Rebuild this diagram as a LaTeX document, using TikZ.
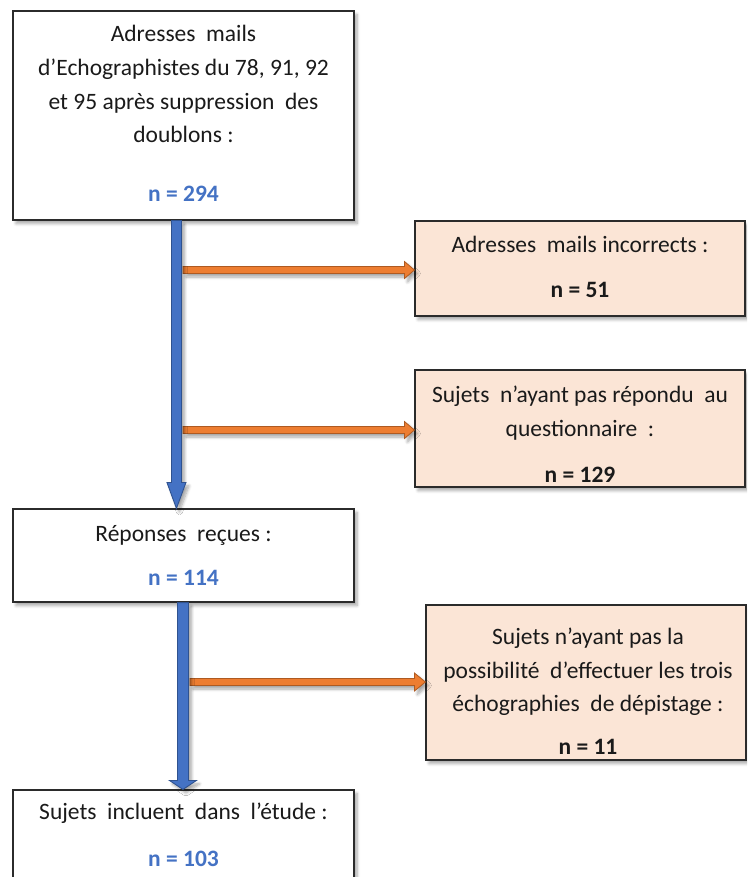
\documentclass[tikz,border=0pt]{standalone}
\usepackage{fontspec}
\setmainfont{Carlito}
\usetikzlibrary{calc,shadows.blur}
\definecolor{bluefill}{HTML}{4472C4}
\definecolor{blueline}{HTML}{2F528F}
\definecolor{orfill}{HTML}{ED7D31}
\definecolor{orline}{HTML}{AE5A21}
\definecolor{boxfill}{HTML}{FBE5D6}
\definecolor{boxline}{HTML}{2B2B2B}
\definecolor{txt}{HTML}{1A1A1A}
\definecolor{ntxt}{HTML}{4472C4}
% vertical block arrow: start, end, half shaft, half head, head length, style
\newcommand\myvarrow[6]{%
  \path[#6] let \p1=(#1), \p2=(#2) in
    (\x1-#3,\y1) -- (\x1-#3,\y2+#5) -- (\x1-#4,\y2+#5) -- (\x1,\y2)
    -- (\x1+#4,\y2+#5) -- (\x1+#3,\y2+#5) -- (\x1+#3,\y1) -- cycle;}
% horizontal block arrow
\newcommand\myharrow[6]{%
  \path[#6] let \p1=(#1), \p2=(#2) in
    (\x1,\y1-#3) -- (\x2-#5,\y1-#3) -- (\x2-#5,\y1-#4) -- (\x2,\y1)
    -- (\x2-#5,\y1+#4) -- (\x2-#5,\y1+#3) -- (\x1,\y1+#3) -- cycle;}
\begin{document}
\begin{tikzpicture}[x=1pt,y=-1pt,
  softshadow/.style={blur shadow={shadow xshift=3pt,shadow yshift=-3.5pt,shadow blur steps=6,shadow blur radius=3pt,shadow opacity=35}},
  whitebox/.style={rectangle,draw=boxline,line width=1.1pt,fill=white,inner sep=0pt,softshadow},
  peachbox/.style={rectangle,draw=boxline,line width=1.1pt,fill=boxfill,inner sep=0pt,softshadow},
  line/.style={anchor=base,inner sep=0pt,text=txt,font=\fontsize{23.5}{28}\selectfont},
  nblue/.style={anchor=base,inner sep=0pt,text=ntxt,font=\fontsize{23.5}{28}\selectfont\bfseries},
  nblack/.style={anchor=base,inner sep=0pt,text=txt,font=\fontsize{23.5}{28}\selectfont\bfseries},
  bluearrow/.style={fill=bluefill,draw=blueline,line width=0.9pt,line join=miter,softshadow},
  orarrow/.style={fill=orfill,draw=orline,line width=0.8pt,line join=miter,softshadow}]
\useasboundingbox (0,0) rectangle (747,877);
\clip (0,0) rectangle (747,877);

% boxes
\node[whitebox,minimum width=341pt,minimum height=209pt] (top) at (183.5,115.5) {};
\node[whitebox,minimum width=341pt,minimum height=93pt] (rep) at (183.5,555.5) {};
\node[whitebox,minimum width=341pt,minimum height=110pt] (inc) at (183.5,845) {};
\node[peachbox,minimum width=330pt,minimum height=95pt] (a1) at (580,268.5) {};
\node[peachbox,minimum width=330pt,minimum height=117pt] (a2) at (580,428.5) {};
\node[peachbox,minimum width=320pt,minimum height=155pt] (a3) at (586,682.5) {};

% texts
\node[line] (t1) at (183.5,42) {Adresses\ \ mails};
\node[line] (t2) at (183.5,76) {d’Echographistes du 78, 91, 92};
\node[line] (t3) at (183.5,110) {et 95 après suppression\ \ des};
\node[line] (t4) at (183.5,143) {doublons :};
\node[nblue] (t5) at (183.5,202) {n = 294};

\node[line] (a1t) at (580,252) {Adresses\ \ mails incorrects :};
\node[nblack] (a1n) at (580,297) {n = 51};

\node[line] (a2t1) at (580,402) {Sujets\ \ n’ayant pas répondu\ \ au};
\node[line] (a2t2) at (580,436) {questionnaire\ \ :};
\node[nblack] (a2n) at (580,482) {n = 129};

\node[line] (rt) at (183.5,541) {Réponses\ \ reçues :};
\node[nblue] (rn) at (183.5,585) {n = 114};

\node[line] (a3t1) at (588,644) {Sujets n’ayant pas la};
\node[line] (a3t2) at (588,678) {possibilité\ \ d’effectuer les trois};
\node[line] (a3t3) at (588,711) {échographies\ \ de dépistage :};
\node[nblack] (a3n) at (588,754) {n = 11};

\node[line] (it) at (183.5,819) {Sujets\ \ incluent\ \ dans\ \ l’étude :};
\node[nblue] (in) at (183.5,866) {n = 103};

% connectors
\coordinate (b1s) at ($(top.south west)+(164,0)$);
\coordinate (b1e) at (b1s |- rep.north);
\coordinate (b2s) at ($(rep.south west)+(170.5,0)$);
\coordinate (b2e) at (b2s |- inc.north);
\coordinate (o1s) at (183,270);
\coordinate (o1e) at (o1s -| a1.west);
\coordinate (o2s) at (183,430);
\coordinate (o2e) at (o2s -| a2.west);
\coordinate (o3s) at (190,682);
\coordinate (o3e) at (o3s -| a3.west);

\myharrow{o1s}{o1e}{3.5pt}{8.5pt}{10pt}{orarrow}
\myharrow{o2s}{o2e}{3.5pt}{8.5pt}{10pt}{orarrow}
\myharrow{o3s}{o3e}{3.5pt}{9pt}{11pt}{orarrow}
\myvarrow{b1s}{b1e}{5pt}{9.5pt}{26pt}{bluearrow}
\myvarrow{b2s}{b2e}{5.5pt}{13.5pt}{9pt}{bluearrow}
\end{tikzpicture}
\end{document}
